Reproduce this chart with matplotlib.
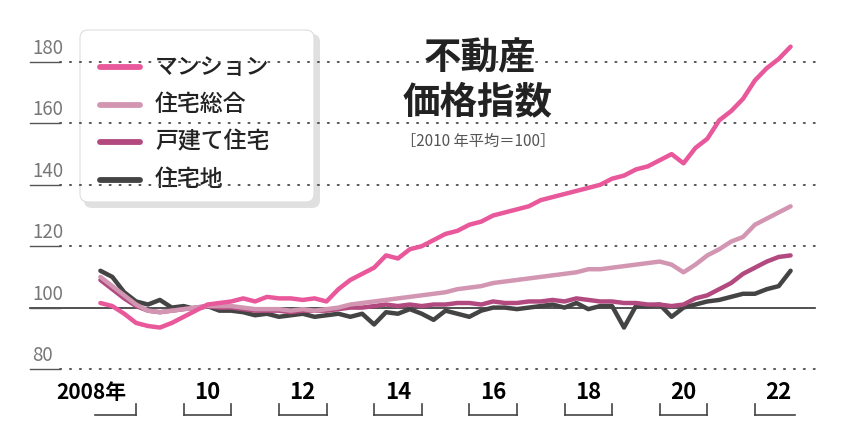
import numpy as np
import matplotlib
matplotlib.use("Agg")
import matplotlib.pyplot as plt
from matplotlib.patches import FancyBboxPatch

FONT = "Noto Sans CJK JP"
plt.rcParams["font.family"] = FONT

series_names = ["マンション", "住宅総合", "戸建て住宅", "住宅地"]
colors = ["#e8589a", "#d396b2", "#b24a80", "#444444"]

mansion = [101.5, 100.5, 98,
           95, 94, 93.5, 95,
           97, 99, 101, 101.5,
           102, 103, 102, 103.5,
           103, 103, 102.5, 103,
           102, 106, 109, 111,
           113, 117, 116, 119,
           120, 122, 124, 125,
           127, 128, 130, 131,
           132, 133, 135, 136,
           137, 138, 139, 140,
           142, 143, 145, 146,
           148, 150, 147, 152,
           155, 161, 164, 168,
           174, 178, 181, 185]
sogo = [110, 107, 104,
        101, 99, 98.5, 99,
        99.5, 100, 100.5, 100.5,
        100.5, 100, 99.5, 99.5,
        99.5, 99, 99.5, 99,
        99.5, 100, 101, 101.5,
        102, 102.5, 103, 103.5,
        104, 104.5, 105, 106,
        106.5, 107, 108, 108.5,
        109, 109.5, 110, 110.5,
        111, 111.5, 112.5, 112.5,
        113, 113.5, 114, 114.5,
        115, 114, 111.5, 114,
        117, 119, 121.5, 123,
        127, 129, 131, 133]
kodate = [109, 106, 103,
          100.5, 99, 98.5, 99,
          99.5, 100, 100.5, 100,
          100, 99.5, 99, 99,
          99, 98.5, 99, 99,
          99, 99.5, 100, 100,
          100.5, 101, 100.5, 101,
          100.5, 101, 101, 101.5,
          101.5, 101, 102, 101.5,
          101.5, 102, 102, 102.5,
          102, 103, 102.5, 102,
          102, 101.5, 101.5, 101,
          101, 100.5, 101, 103,
          104, 106, 108, 111,
          113, 115, 116.5, 117]
jutakuchi = [112, 110, 105,
             102, 101, 102.5, 100,
             100.5, 99.5, 100.5, 99,
             99, 98.5, 97.5, 98,
             97, 97.5, 98, 97,
             97.5, 98, 97, 98,
             94.5, 98.5, 98, 99.5,
             98, 96, 99, 98,
             97, 99, 100, 100,
             99.5, 100, 100.5, 101,
             100, 101.5, 99.5, 100.5,
             100.5, 93.5, 100.5, 100.5,
             101, 97, 100, 101,
             102, 102.5, 103.5, 104.5,
             104.5, 106, 107, 112]
years = 2008.25 + 0.25 * np.arange(len(mansion))
y_ticks = [80, 100, 120, 140, 160, 180]
x_tick_years = [2008, 2010, 2012, 2014, 2016, 2018, 2020, 2022]
x_tick_labels = ["2008年", "10", "12", "14", "16", "18", "20", "22"]

W, H = 846, 442
fig = plt.figure(figsize=(W / 100, H / 100), dpi=100)
fig.patch.set_facecolor("white")

pa = fig.add_axes([0, 0, 1, 1])
pa.set_xlim(0, W); pa.set_ylim(H, 0); pa.axis("off")

x0, x1 = 88.5, 88.5 + 15 * 47.6
y80, y180 = 369, 62
ax = fig.add_axes([x0 / W, (H - y80) / H, (x1 - x0) / W, (y80 - y180) / H])
ax.set_xlim(2008, 2023); ax.set_ylim(80, 180)
ax.axis("off"); ax.patch.set_alpha(0)

xl = 2006.77
for v in y_ticks:
    ax.plot([xl, xl + 30 / 47.6], [v, v], color="#555555", lw=1.0, clip_on=False)
    if v == 100:
        ax.plot([xl, xl + (815 - 30) / 47.6], [v, v], color="#333333", lw=1.2, clip_on=False, zorder=1)
    else:
        ax.plot([xl + 30 / 47.6, xl + (815 - 30) / 47.6], [v, v], color="#555555",
                lw=1.4, ls=(0, (0.6, 4.5)), dash_capstyle="round", clip_on=False)
    ax.text(xl + 2 / 47.6, v + 1.0, str(v), fontsize=13.5, color="#777777",
            ha="left", va="bottom", fontstretch="condensed")

for data, c in [(jutakuchi, colors[3]), (kodate, colors[2]), (sogo, colors[1]), (mansion, colors[0])]:
    ax.plot(years, data, color=c, lw=3.2, solid_joinstyle="round", solid_capstyle="round", clip_on=False, zorder=3)

for yr, lab in zip(x_tick_years, x_tick_labels):
    a = yr + (0.14 if yr == 2008 else 0.0)
    b = yr + 1.0 if yr != 2022 else yr + 0.85
    yb = 80 - (415 - 369) / 3.075
    yt = 80 - (404 - 369) / 3.075
    ax.plot([a, b], [yb, yb], color="#444444", lw=1.2, clip_on=False)
    if yr != 2008:
        ax.plot([a, a], [yb, yt], color="#444444", lw=1.2, clip_on=False)
    if yr != 2022:
        ax.plot([b, b], [yb, yt], color="#444444", lw=1.2, clip_on=False)
    ty = 80 - (393 - 369) / 3.075
    if yr == 2008:
        ax.text(2008.8, ty, lab, fontsize=15, fontweight="bold", ha="right", va="center", clip_on=False)
    else:
        ax.text(yr + 0.5, ty, lab, fontsize=16, fontweight="bold", ha="center", va="center", clip_on=False)

shadow = FancyBboxPatch((84, 34), 236, 174, boxstyle="round,pad=0,rounding_size=8",
                        fc="#cccccc", ec="none", alpha=0.6, zorder=4)
box = FancyBboxPatch((80, 30), 234, 172, boxstyle="round,pad=0,rounding_size=8",
                     fc="white", ec="#dddddd", lw=0.8, zorder=5)
pa.add_patch(shadow); pa.add_patch(box)
for i, (name, c) in enumerate(zip(series_names, colors)):
    yy = 67 + i * 37.5
    pa.plot([100, 140], [yy, yy], color=c, lw=4.2, solid_capstyle="round", zorder=6)
    pa.text(155, yy, name, fontsize=16.5, fontweight="medium", ha="left", va="center", color="#222222", zorder=6)

pa.text(480, 58, "不動産", fontsize=27, fontweight="bold", ha="center", va="center", color="#222222")
pa.text(478, 103, "価格指数", fontsize=27, fontweight="bold", ha="center", va="center", color="#222222")
pa.text(478, 141, "［2010 年平均＝100］", fontsize=11, ha="center", va="center", color="#555555")

fig.savefig("out.png", dpi=100)
